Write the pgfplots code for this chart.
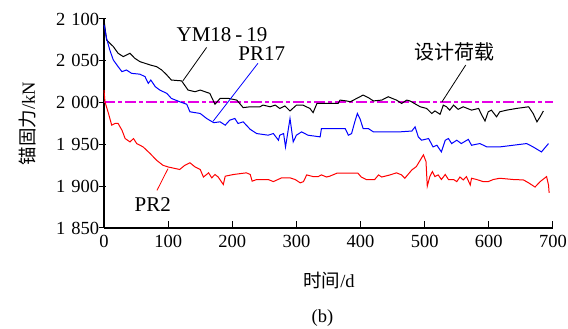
\documentclass[border=0pt]{standalone}
\usepackage{pgfplots}
\pgfplotsset{compat=1.18}
\usepackage{fontspec}
\setmainfont{Liberation Serif}
\newfontfamily\cjk{Noto Sans CJK SC}
\definecolor{mymag}{RGB}{230,0,230}
\begin{document}
\fontsize{18.5}{22}\selectfont
\begin{tikzpicture}
\useasboundingbox (-104pt,-101pt) rectangle (464pt,228pt);
\begin{axis}[
  scale only axis, width=449pt, height=209pt,
  xmin=0, xmax=700, ymin=1850, ymax=2100,
  axis x line=bottom, axis y line=left,
  axis line style={-, line width=1.2pt},
  xtick={0,100,...,700}, ytick={1850,1900,...,2100},
  tick align=inside, major tick length=6.5pt,
  tick style={black, line width=1pt},
  ytick style={xshift=-4.5pt},
  /pgf/number format/assume math mode=true,
  /pgf/number format/1000 sep={\hspace{6pt}},
  tick label style={font=\fontsize{18.5}{21}\selectfont},
  xticklabel style={yshift=-1pt},
  yticklabel style={xshift=1.5pt},
  clip=false,
]
\addplot[mymag, line width=1.6pt, dash pattern=on 11pt off 3pt on 4pt off 3pt] coordinates {(0,2001) (700,2001)};
% YM18-19 (black)
\addplot[black, line width=1pt] coordinates {
(0,2099) (4,2075) (14.5,2067) (22,2059) (30,2055) (40.5,2059) (48,2053) (56,2049) (72,2045) (82,2043) (90,2039) (98,2033) (105,2027) (121,2026) (131,2015) (142,2013) (150,2015) (165,2011) (173,1998) (181,2005) (194,2005) (207,2003) (217,1994) (228,1995) (243,1995) (248,1997) (259,1995) (267,1997) (274,1993) (282,1996) (290,1990) (300,1997) (310,1997) (321,1993) (326,1988) (332,1999) (352,1999) (365,1999) (368,2003) (378,2002) (384,2001) (404,2009) (412,2006) (420,2002) (433,2003) (443,2007) (456,2003) (464,1999) (472,2003) (477,2002) (493,1995) (503,1993) (511,1987) (516,1990) (524,1986) (529,1997) (534,1995) (539,1991) (545,1997) (552,1992) (560,1995) (573,1991) (584,1993) (589,1985) (594,1978) (599,1989) (604,1991) (612,1983) (617,1989) (628,1991) (643,1993) (662,1995) (669,1987) (675,1977) (680,1983) (685,1990)};
% PR17 (blue)
\addplot[blue, line width=1pt] coordinates {
(0,2093) (4,2077) (9,2063) (14.5,2051) (22,2043) (28,2037) (35,2039) (43,2035) (56,2034) (64,2031) (69,2023) (73,2027) (80,2019) (87,2015) (98,2011) (105,2005) (118,2001) (129,1998) (134,1989) (150,1987) (160,1981) (171,1976) (181,1977) (189,1973) (196,1979) (204,1981) (209,1975) (217,1977) (228,1968) (238,1963) (256,1961) (264,1963) (272,1955) (274,1961) (280,1963) (283,1947) (290,1981) (295,1953) (300,1961) (308,1965) (318,1961) (337,1959) (339,1969) (352,1969) (376,1969) (381,1961) (386,1963) (391,1977) (395,1987) (399,1981) (404,1969) (412,1969) (420,1965) (428,1965) (451,1965) (461,1965) (480,1966) (485,1971) (490,1959) (495,1955) (506,1957) (513,1947) (519,1949) (526,1941) (532,1955) (537,1957) (542,1951) (550,1955) (557,1951) (568,1956) (573,1949) (586,1951) (597,1947) (617,1947) (638,1949) (659,1951) (669,1947) (682,1941) (693,1951)};
% PR2 (red)
\addplot[red, line width=1pt] coordinates {
(0,2015) (1.5,2001) (7,1987) (12,1973) (17,1975) (22,1975) (28,1967) (33,1957) (40.5,1953) (46,1957) (51,1951) (61,1947) (72,1939) (82,1931) (92,1925) (100,1923) (118,1920) (126,1925) (134,1928) (142,1923) (150,1920) (155,1911) (160,1914) (163,1916) (168,1910) (173,1914) (178,1911) (186,1902) (189,1912) (202,1914) (222,1916) (228,1914) (231,1906) (238,1908) (256,1908) (264,1905.5) (277,1910) (290,1910) (298,1908) (306,1904) (311,1905.5) (316,1913.5) (326,1911.5) (334,1911.5) (339,1913.5) (347,1911) (352,1912) (363,1915.5) (396,1915.5) (401,1911) (409,1908) (422,1908) (428,1913.5) (433,1911) (446,1913.5) (456,1916) (464,1913.5) (469,1909.5) (480,1919.5) (487,1923.5) (498,1937.5) (502,1929.5) (504,1900) (508,1911.5) (512,1917.5) (516,1911.5) (521,1913.5) (526,1908) (532,1914) (537,1908) (545,1908) (550,1905.5) (555,1911) (560,1907.5) (565,1911.5) (571,1901.5) (573,1909.5) (581,1908) (591,1905.5) (599,1905.5) (607,1908) (617,1909.5) (638,1908) (654,1907.5) (662,1904) (672,1899) (680,1905.5) (690,1911.5) (693,1901.5) (694,1892)};
% annotations
\draw[black, line width=0.8pt] (axis cs:160,2066) -- (axis cs:123,2026);
\node[font=\fontsize{21}{24}\selectfont] at (axis cs:184,2081) {YM18\hspace{4pt}-\hspace{4pt}19};
\draw[blue, line width=0.8pt] (axis cs:240,2047) -- (axis cs:170,1977.6);
\node[font=\fontsize{21}{24}\selectfont] at (axis cs:246,2059) {PR17};
\draw[black, line width=0.8pt] (axis cs:564,2045) -- (axis cs:527,2001);
\node[font=\fontsize{20}{24}\selectfont] at (axis cs:547,2061) {\cjk 设计荷载};
\draw[red, line width=0.8pt] (axis cs:82.6,1895) -- (axis cs:99.8,1921);
\node[font=\fontsize{21}{24}\selectfont] at (axis cs:76,1878) {PR2};
\end{axis}
\node at (-76pt,104.5pt) [rotate=90] {{\cjk 锚固力}/kN};
\node at (225pt,-53pt) {{\cjk 时间}/d};
\node at (218.5pt,-90pt) {(b)};
\end{tikzpicture}
\end{document}
